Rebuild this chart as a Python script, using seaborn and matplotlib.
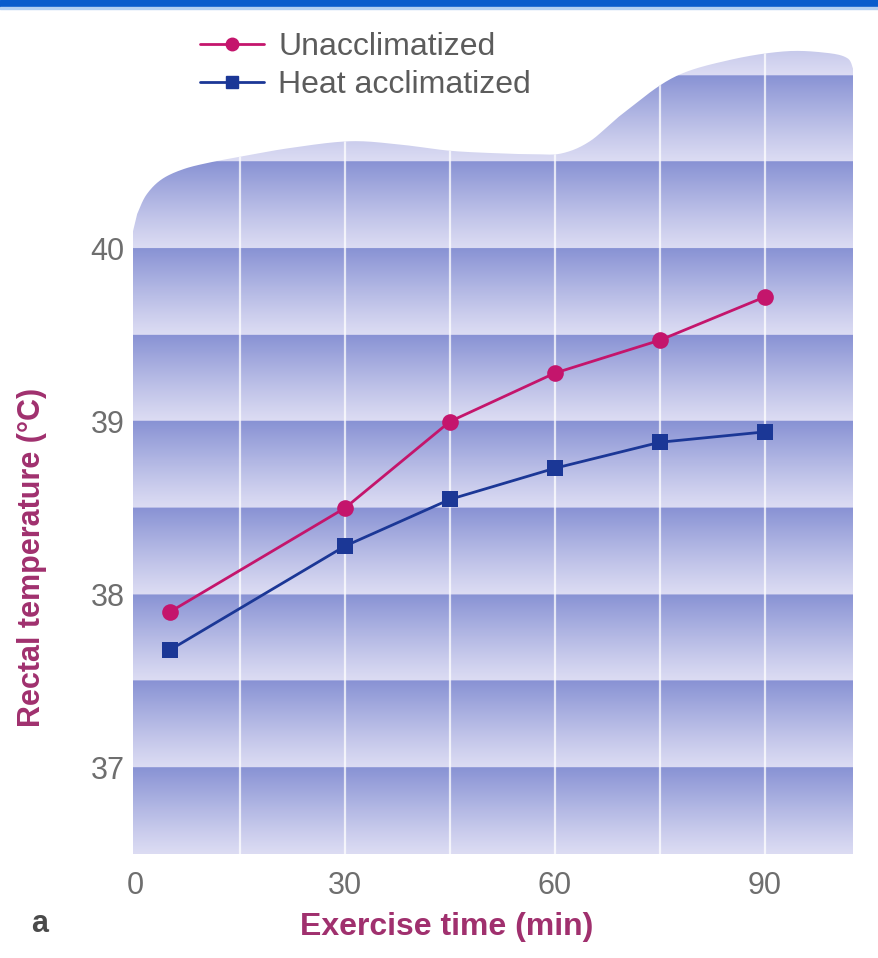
import numpy as np
import pandas as pd
import matplotlib
matplotlib.use("Agg")
import matplotlib.pyplot as plt
import seaborn as sns
from matplotlib.path import Path
from matplotlib.patches import PathPatch, Rectangle
from matplotlib.lines import Line2D

# data
time_min = [5, 30, 45, 60, 75, 90]
unacclimatized = [37.9, 38.5, 39.0, 39.28, 39.47, 39.72]
heat_acclimatized = [37.68, 38.28, 38.55, 38.73, 38.88, 38.94]
series_names = ["Unacclimatized", "Heat acclimatized"]
x_ticks = [0, 30, 60, 90]
y_ticks = [37, 38, 39, 40]

# decorative wavy top of the background panel (x, y in data units)
wave_x = [0.3, 1.6, 3.8, 7, 11, 15, 22, 30.7, 38, 45, 52, 57, 61, 65, 69.7, 77, 85, 93, 99, 101.8, 102.6]
wave_y = [40.2, 40.31, 40.4, 40.46, 40.5, 40.53, 40.58, 40.62, 40.6, 40.565, 40.55, 40.545, 40.55, 40.62, 40.78, 40.99, 41.09, 41.14, 41.13, 41.10, 41.04]

df = pd.DataFrame({
    "time": time_min * 2,
    "temp": unacclimatized + heat_acclimatized,
    "group": [series_names[0]] * 6 + [series_names[1]] * 6,
})

sns.set_theme(style="white")
plt.rcParams["font.family"] = ["Liberation Sans", "DejaVu Sans"]

magenta = "#c4156c"
blue = "#1b3796"
label_col = "#a0306e"
tick_col = "#6e6e6e"

fig = plt.figure(figsize=(8.79, 9.58), dpi=100)
W, H = 879, 958
xlim = (-0.3, 102.6)
ylim = (36.5, 41.2)
left_px, bottom_px = 133, 854
ax = fig.add_axes([left_px / W, 1 - bottom_px / H,
                   (853 - left_px) / W, (ylim[1] - ylim[0]) * 173 / H])
ax.set_xlim(*xlim)
ax.set_ylim(*ylim)

# banded gradient background
yy = np.linspace(ylim[0], ylim[1], 900)
t = ((yy - 36.5) / 0.5) % 1.0
dark = np.array([136, 146, 212]) / 255
light = np.array([220, 220, 243]) / 255
cols = light[None, :] + (dark - light)[None, :] * (t[:, None] ** 1.1)
img = np.repeat(cols[:, None, :], 2, axis=1)
im = ax.imshow(img, extent=[xlim[0], xlim[1], ylim[0], ylim[1]], origin="lower",
               aspect="auto", interpolation="bilinear", zorder=0)

# clip shape: straight sides, wavy top
def catmull(px, py, n=20):
    px = np.r_[px[0], px, px[-1]]
    py = np.r_[py[0], py, py[-1]]
    ox, oy = [], []
    for i in range(1, len(px) - 2):
        s = np.linspace(0, 1, n, endpoint=False)
        for arr, out in ((px, ox), (py, oy)):
            p0, p1, p2, p3 = arr[i - 1], arr[i], arr[i + 1], arr[i + 2]
            out.extend(0.5 * (2 * p1 + (-p0 + p2) * s + (2 * p0 - 5 * p1 + 4 * p2 - p3) * s ** 2
                              + (-p0 + 3 * p1 - 3 * p2 + p3) * s ** 3))
    ox.append(px[-2]); oy.append(py[-2])
    return ox, oy

cx, cy = catmull(wave_x, wave_y)
verts = [(xlim[0], ylim[0]), (xlim[0], 40.1)] + list(zip(cx, cy)) + [(xlim[1], 40.98), (xlim[1], ylim[0]), (xlim[0], ylim[0])]
clip = PathPatch(Path(verts), transform=ax.transData, facecolor="none", edgecolor="none")
ax.add_patch(clip)
im.set_clip_path(clip)

for xv in range(15, 100, 15):
    ln = ax.axvline(xv, color="white", lw=1.6, alpha=0.75, zorder=1)
    ln.set_clip_path(clip)

sns.lineplot(data=df, x="time", y="temp", hue="group", style="group",
             palette={series_names[0]: magenta, series_names[1]: blue},
             markers={series_names[0]: "o", series_names[1]: "s"}, dashes=False,
             markersize=12, markeredgewidth=0, linewidth=2, legend=False, ax=ax, zorder=3)

for s in ax.spines.values():
    s.set_visible(False)
ax.grid(False)
ax.set_xticks(x_ticks)
ax.set_yticks(y_ticks)
ax.tick_params(length=0, labelsize=22, labelcolor=tick_col, pad=6)
ax.tick_params(axis="x", pad=12)

ax.set_xlabel("Exercise time (min)", fontsize=23, fontweight="bold", color=label_col)
ax.xaxis.set_label_coords(0.436, -0.09)
ax.set_ylabel("Rectal temperature (°C)", fontsize=22, fontweight="bold", color=label_col)
ax.yaxis.set_label_coords(-0.14, 0.365)
ax.xaxis.label.set_va("center")
ax.yaxis.label.set_va("center")

handles = [Line2D([], [], color=magenta, marker="o", markersize=9, lw=2),
           Line2D([], [], color=blue, marker="s", markersize=8, lw=2)]
leg = fig.legend(handles, series_names, loc="upper left", bbox_to_anchor=(200 / W, 1 - 32 / H),
                 frameon=False, fontsize=23, handlelength=2.0, handletextpad=0.45,
                 labelspacing=0.25, borderpad=0, borderaxespad=0)
for txt in leg.get_texts():
    txt.set_color("#5c5c5c")

fig.text(40 / W, 1 - 924 / H, "a", fontsize=22, fontweight="bold", color="#4a4a4a",
         ha="center", va="center")

# top header bar
fig.patches.append(Rectangle((0, 1 - 7 / H), 1, 7 / H, transform=fig.transFigure,
                             color="#0a5ccc", zorder=5))
fig.patches.append(Rectangle((0, 1 - 9 / H), 1, 2 / H, transform=fig.transFigure,
                             color="#b4d0f2", zorder=5))

fig.savefig("out.png", dpi=100)
